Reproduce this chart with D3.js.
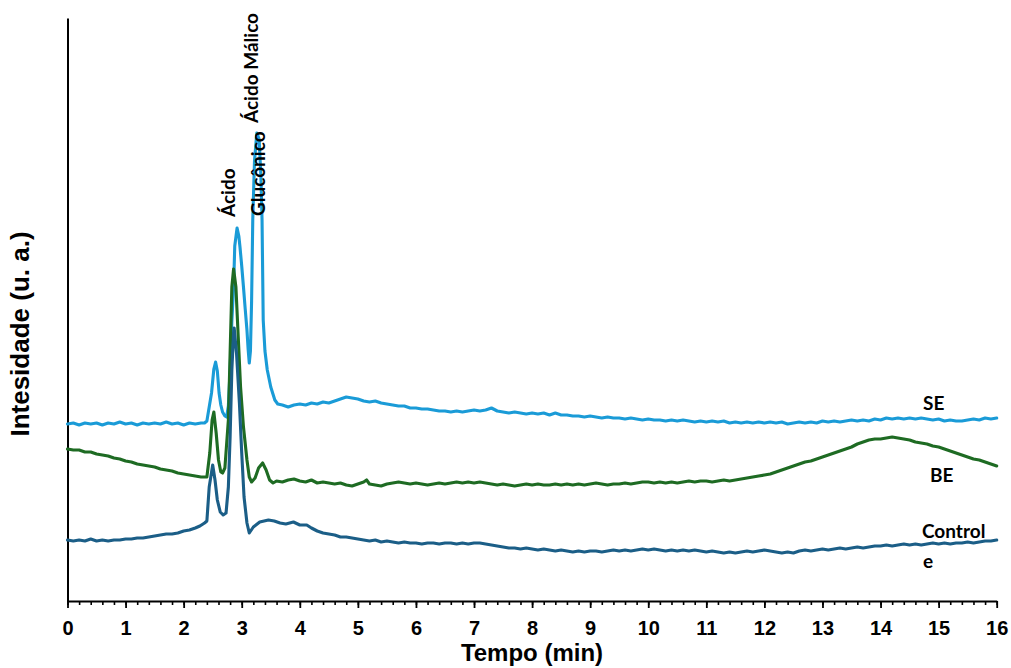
<!DOCTYPE html>
<html>
<head>
<meta charset="utf-8">
<script src="https://cdn.jsdelivr.net/npm/d3@7"></script>
<style>
  html, body { margin: 0; padding: 0; background: #fff; }
  svg { display: block; }
</style>
</head>
<body>
<svg id="chart" width="1011" height="668"></svg>
<script>
// Chromatograms: retention time (min) vs. intensity (u. a.)
const seriesSE = [[0,177],[0.1,178],[0.2,176],[0.3,178],[0.4,177],[0.5,178],[0.6,176],[0.7,178],[0.8,177],[0.9,179],[1.0,177],[1.1,178],[1.2,176],[1.3,178],[1.4,177],[1.5,178],[1.6,177],[1.7,179],[1.8,177],[1.9,178],[2.0,176],[2.1,178],[2.2,177],[2.3,178],[2.36,178],[2.40,180],[2.44,194],[2.48,208],[2.52,232],[2.55,239],[2.58,230],[2.61,208],[2.64,196],[2.67,189],[2.71,185],[2.74,184],[2.77,195],[2.80,231],[2.83,280],[2.86,314],[2.88,355],[2.92,373],[2.95,365],[2.97,354],[3.00,335],[3.03,314],[3.06,292],[3.09,271],[3.11,252],[3.13,238],[3.15,250],[3.17,300],[3.19,381],[3.22,440],[3.26,468],[3.30,462],[3.33,425],[3.35,381],[3.37,281],[3.40,250],[3.44,231],[3.50,214],[3.57,201],[3.62,197],[3.7,196],[3.8,194],[3.9,196],[4.0,197],[4.1,196],[4.2,198],[4.3,197],[4.4,199],[4.5,198],[4.6,200],[4.7,202],[4.8,204],[4.9,203],[5.0,202],[5.1,200],[5.2,199],[5.3,200],[5.4,198],[5.5,197],[5.6,196],[5.7,195],[5.8,195],[5.9,193],[6.0,193],[6.1,192],[6.2,192],[6.3,191],[6.4,190],[6.5,190],[6.6,189],[6.7,190],[6.8,189],[6.9,190],[7.0,191],[7.1,190],[7.2,191],[7.3,193],[7.4,190],[7.5,189],[7.6,188],[7.7,189],[7.8,188],[7.9,187],[8.0,188],[8.1,187],[8.2,188],[8.3,186],[8.4,188],[8.5,186],[8.6,186],[8.7,185],[8.8,185],[8.9,184],[9.0,185],[9.1,184],[9.2,183],[9.3,184],[9.4,183],[9.5,183],[9.6,182],[9.7,183],[9.8,182],[9.9,181],[10.0,182],[10.1,181],[10.2,181],[10.3,180],[10.4,181],[10.5,180],[10.6,181],[10.7,180],[10.8,179],[10.9,180],[11.0,179],[11.1,180],[11.2,179],[11.3,180],[11.4,178],[11.5,179],[11.6,178],[11.7,179],[11.8,178],[11.9,179],[12.0,178],[12.1,179],[12.2,178],[12.3,179],[12.4,177],[12.5,178],[12.6,179],[12.7,178],[12.8,179],[12.9,178],[13.0,180],[13.1,179],[13.2,180],[13.3,179],[13.4,180],[13.5,181],[13.6,180],[13.7,181],[13.8,180],[13.9,182],[14.0,181],[14.1,183],[14.2,182],[14.3,183],[14.4,182],[14.5,183],[14.6,182],[14.7,183],[14.8,182],[14.9,181],[15.0,182],[15.1,180],[15.2,181],[15.3,180],[15.4,180],[15.5,181],[15.6,182],[15.7,181],[15.8,183],[15.9,182],[16.0,183]];

const seriesBE = [[0,152],[0.1,151],[0.2,151],[0.3,149],[0.4,149],[0.5,147],[0.6,146],[0.7,145],[0.8,143],[0.9,142],[1.0,140],[1.1,139],[1.2,137],[1.3,136],[1.4,135],[1.5,134],[1.6,132],[1.7,131],[1.8,130],[1.9,128],[2.0,127],[2.1,126],[2.2,125],[2.3,124],[2.40,124],[2.45,148],[2.49,181],[2.52,189],[2.56,168],[2.60,141],[2.64,129],[2.67,128],[2.71,133],[2.77,181],[2.80,248],[2.83,314],[2.86,332],[2.90,314],[2.94,264],[2.98,214],[3.03,174],[3.09,141],[3.13,124],[3.17,119],[3.23,123],[3.29,133],[3.36,138],[3.42,131],[3.48,121],[3.54,118],[3.6,120],[3.7,119],[3.8,121],[3.9,122],[4.0,120],[4.1,119],[4.2,121],[4.3,118],[4.4,119],[4.5,118],[4.6,117],[4.7,118],[4.8,116],[4.9,115],[5.0,117],[5.1,119],[5.15,121],[5.2,117],[5.3,116],[5.4,115],[5.5,117],[5.6,118],[5.7,119],[5.8,118],[5.9,117],[6.0,118],[6.1,117],[6.2,116],[6.3,117],[6.4,118],[6.5,117],[6.6,118],[6.7,119],[6.8,118],[6.9,119],[7.0,118],[7.1,119],[7.2,118],[7.3,117],[7.4,116],[7.5,117],[7.6,116],[7.7,115],[7.8,116],[7.9,117],[8.0,116],[8.1,117],[8.2,116],[8.3,116],[8.4,117],[8.5,116],[8.6,117],[8.7,116],[8.8,117],[8.9,116],[9.0,117],[9.1,118],[9.2,117],[9.3,116],[9.4,117],[9.5,117],[9.6,118],[9.7,117],[9.8,118],[9.9,119],[10.0,119],[10.1,118],[10.2,119],[10.3,118],[10.4,119],[10.5,118],[10.6,119],[10.7,120],[10.8,119],[10.9,120],[11.0,120],[11.1,119],[11.2,120],[11.3,121],[11.4,120],[11.5,121],[11.6,122],[11.7,123],[11.8,124],[11.9,125],[12.0,126],[12.1,127],[12.2,129],[12.3,131],[12.4,133],[12.5,135],[12.6,137],[12.7,139],[12.8,140],[12.9,142],[13.0,144],[13.1,146],[13.2,148],[13.3,150],[13.4,152],[13.5,154],[13.6,157],[13.7,159],[13.8,161],[13.9,162],[14.0,162],[14.1,163],[14.2,164],[14.3,163],[14.4,162],[14.5,161],[14.6,159],[14.7,158],[14.8,157],[14.9,155],[15.0,154],[15.1,152],[15.2,150],[15.3,148],[15.4,146],[15.5,144],[15.6,142],[15.7,141],[15.8,139],[15.9,137],[16.0,135]];

const seriesControle = [[0,61],[0.1,60],[0.2,61],[0.3,60],[0.4,62],[0.5,60],[0.6,61],[0.7,60],[0.8,61],[0.9,61],[1.0,62],[1.1,62],[1.2,63],[1.3,63],[1.4,64],[1.5,65],[1.6,66],[1.7,67],[1.8,67],[1.9,68],[2.0,70],[2.1,71],[2.2,73],[2.28,75],[2.36,78],[2.40,80],[2.44,114],[2.50,136],[2.54,121],[2.58,101],[2.63,89],[2.68,86],[2.73,88],[2.77,114],[2.80,164],[2.83,231],[2.86,268],[2.87,273],[2.91,248],[2.96,198],[3.00,148],[3.04,104],[3.09,78],[3.13,68],[3.20,74],[3.31,79],[3.46,81],[3.56,80],[3.66,78],[3.76,77],[3.89,79],[4.0,76],[4.12,76],[4.2,73],[4.3,70],[4.4,68],[4.5,67],[4.6,66],[4.7,64],[4.8,64],[4.9,63],[5.0,62],[5.1,61],[5.2,60],[5.3,61],[5.4,59],[5.5,60],[5.6,59],[5.7,58],[5.8,59],[5.9,58],[6.0,58],[6.1,57],[6.2,58],[6.3,58],[6.4,57],[6.5,58],[6.6,58],[6.7,57],[6.8,58],[6.9,57],[7.0,58],[7.1,58],[7.2,57],[7.3,56],[7.4,55],[7.5,54],[7.6,53],[7.7,53],[7.8,52],[7.9,53],[8.0,52],[8.1,51],[8.2,52],[8.3,51],[8.4,50],[8.5,51],[8.6,50],[8.7,49],[8.8,50],[8.9,49],[9.0,50],[9.1,50],[9.2,49],[9.3,50],[9.4,51],[9.5,50],[9.6,51],[9.7,50],[9.8,51],[9.9,52],[10.0,51],[10.1,52],[10.2,51],[10.3,50],[10.4,51],[10.5,50],[10.6,51],[10.7,50],[10.8,51],[10.9,50],[11.0,49],[11.1,50],[11.2,49],[11.3,48],[11.4,49],[11.5,48],[11.6,49],[11.7,50],[11.8,49],[11.9,50],[12.0,51],[12.1,50],[12.2,49],[12.3,48],[12.4,49],[12.5,48],[12.6,50],[12.7,51],[12.8,50],[12.9,51],[13.0,52],[13.1,51],[13.2,52],[13.3,53],[13.4,52],[13.5,53],[13.6,54],[13.7,53],[13.8,54],[13.9,55],[14.0,55],[14.1,56],[14.2,55],[14.3,56],[14.4,57],[14.5,56],[14.6,57],[14.7,56],[14.8,57],[14.9,58],[15.0,57],[15.1,58],[15.2,57],[15.3,58],[15.4,58],[15.5,59],[15.6,58],[15.7,59],[15.8,60],[15.9,60],[16.0,61]];

const seriesNames = ["SE", "BE", "Controle"];
const seriesColors = ["#1a9bd7", "#1e6b23", "#1b5e87"];
const xTicks = [0,1,2,3,4,5,6,7,8,9,10,11,12,13,14,15,16];
const peakLabels = ["Ácido", "Glucônico", "Ácido Málico"];
const xTitle = "Tempo (min)";
const yTitle = "Intesidade (u. a.)";

const svg = d3.select("#chart");
const x = d3.scaleLinear().domain([0, 16]).range([67.5, 996.7]);
const y = d3.scaleLinear().domain([0, 583]).range([601, 18]);

// Minor ticks every 0.2 min
const minorAxis = d3.axisBottom(x)
  .tickValues(d3.range(0, 16.001, 0.2))
  .tickSize(4).tickSizeOuter(0).tickFormat("");
svg.append("g").attr("transform", "translate(0,601)").call(minorAxis)
  .call(g => g.select(".domain").remove())
  .call(g => g.selectAll("line").attr("stroke", "#000").attr("stroke-width", 1.6));

// Major ticks and labels
const majorAxis = d3.axisBottom(x)
  .tickValues(xTicks).tickSize(7).tickSizeOuter(0).tickPadding(13)
  .tickFormat(d3.format("d"));
svg.append("g").attr("transform", "translate(0,601)").call(majorAxis)
  .call(g => g.select(".domain").attr("stroke", "#000").attr("stroke-width", 2))
  .call(g => g.selectAll("line").attr("stroke", "#000").attr("stroke-width", 1.8))
  .call(g => g.selectAll("text")
    .attr("fill", "#000")
    .style("font-family", "'Liberation Sans', Arial, sans-serif")
    .style("font-weight", "bold")
    .style("font-size", "20px"));

// Y axis: plain line, no ticks
const yAxis = d3.axisLeft(y).tickValues([]).tickSizeOuter(0);
svg.append("g").attr("transform", "translate(67.5,0)").call(yAxis)
  .call(g => g.select(".domain").attr("stroke", "#000").attr("stroke-width", 2));

// Chromatogram traces
const line = d3.line().x(d => x(d[0])).y(d => y(d[1]));
const allSeries = [seriesSE, seriesBE, seriesControle];
svg.append("g").selectAll("path")
  .data(allSeries)
  .join("path")
  .attr("d", line)
  .attr("fill", "none")
  .attr("stroke", (d, i) => seriesColors[i])
  .attr("stroke-width", 3.1)
  .attr("stroke-linejoin", "round")
  .attr("stroke-linecap", "round");

// Axis titles
const titleFont = "'Liberation Sans', Arial, sans-serif";
svg.append("text")
  .attr("x", 532).attr("y", 661)
  .attr("text-anchor", "middle")
  .style("font-family", titleFont).style("font-weight", "bold").style("font-size", "24px")
  .text(xTitle);
svg.append("text")
  .attr("transform", "translate(29,334) rotate(-90)")
  .attr("text-anchor", "middle")
  .style("font-family", titleFont).style("font-weight", "bold").style("font-size", "26px")
  .text(yTitle);

// Peak annotations (vertical)
const labelFont = "Lato, 'Open Sans', sans-serif";
const peakPos = [[235, 217], [265, 216], [258, 123]];
svg.append("g").selectAll("text")
  .data(peakLabels)
  .join("text")
  .attr("transform", (d, i) => `translate(${peakPos[i][0]},${peakPos[i][1]}) rotate(-90)`)
  .style("font-family", labelFont).style("font-weight", "bold").style("font-size", "19px")
  .attr("fill", "#000")
  .text(d => d);

// Series labels at the right end
const seriesLabelLines = [["SE"], ["BE"], ["Control", "e"]];
const seriesLabelPos = [[923, 410], [930, 482], [922, 538]];
seriesLabelLines.forEach((lines, i) => {
  const t = svg.append("text")
    .attr("x", seriesLabelPos[i][0]).attr("y", seriesLabelPos[i][1])
    .style("font-family", labelFont).style("font-weight", "bold").style("font-size", "19px")
    .attr("fill", "#000");
  lines.forEach((s, j) => {
    t.append("tspan")
      .attr("x", seriesLabelPos[i][0] + (j ? 1 : 0))
      .attr("dy", j ? 30 : 0)
      .text(s);
  });
});
</script>
</body>
</html>
